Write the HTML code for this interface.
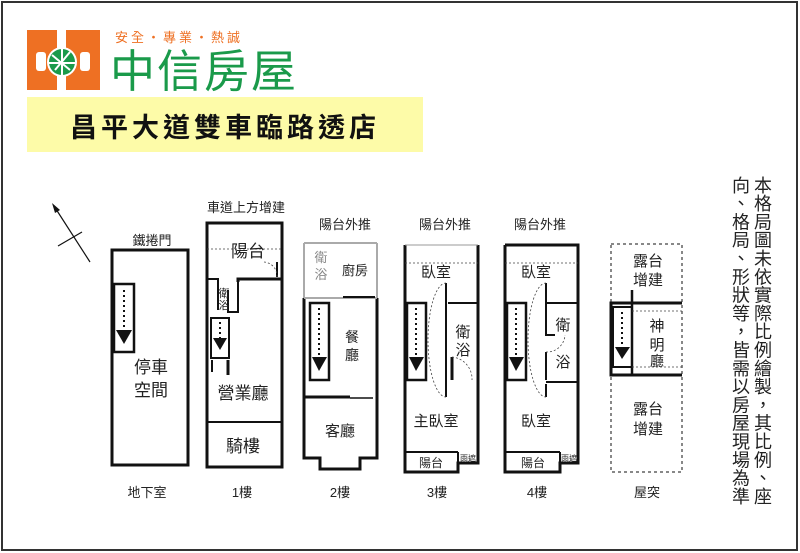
<!DOCTYPE html>
<html><head><meta charset="utf-8"><style>
body{margin:0;background:#fff;width:800px;height:553px;overflow:hidden;position:relative;font-family:"Liberation Sans","Noto Sans CJK TC",sans-serif}
.v{position:absolute;top:176px;writing-mode:vertical-rl;font-size:18px;line-height:21px;letter-spacing:0.3px;color:#222;font-family:"Liberation Sans","Noto Sans CJK TC",sans-serif}
</style></head><body>
<svg width="800" height="553" style="position:absolute;left:0;top:0" font-family="Liberation Sans, Noto Sans CJK TC, sans-serif">
<rect x="2" y="2" width="795" height="548" fill="none" stroke="#333" stroke-width="2"/>
<!-- logo -->
<rect x="27" y="30" width="73" height="60" fill="#ee7023"/>
<rect x="57" y="30" width="9" height="20" fill="#fff"/>
<rect x="57" y="76" width="9" height="14" fill="#fff"/>
<rect x="36" y="52" width="10" height="19" rx="3" fill="#fff"/>
<rect x="80" y="52" width="10" height="19" rx="3" fill="#fff"/>
<circle cx="62" cy="62" r="15" fill="#fff"/>
<circle cx="62" cy="62" r="13" fill="#1a9a4a"/>
<path d="M52 55 L70 70 M55 70 L70 52 M49 63 H75 M62 49 V75" stroke="#fff" stroke-width="2" fill="none"/>
<text x="115" y="42" font-size="13" fill="#ee7023" letter-spacing="3">安全・專業・熱誠</text>
<text x="110" y="87" font-size="45" fill="#1a9a4a" letter-spacing="2">中信房屋</text>
<rect x="27" y="97" width="396" height="55" fill="#fdfba8"/>
<text x="225" y="137" font-size="27" font-weight="bold" text-anchor="middle" fill="#111" letter-spacing="4">昌平大道雙車臨路透店</text>
<!-- north -->
<line x1="54" y1="206" x2="90" y2="262" stroke="#111" stroke-width="1.2"/>
<polygon points="52,203 60,210 55,213" fill="#111"/>
<line x1="58" y1="246" x2="82" y2="232" stroke="#111" stroke-width="1.2"/>
<g stroke="#111" fill="none" stroke-width="3">
<rect x="112" y="250" width="76" height="215"/>
<rect x="114" y="284" width="20" height="68" stroke-width="2.5"/>
<rect x="207" y="223" width="75" height="244"/>
<path d="M238 282 V279 H282" />
<path d="M207 279 H218 V310" stroke-width="2"/>
<path d="M228 290 V312 H238 V282" stroke-width="2"/>
<line x1="207" y1="422" x2="282" y2="422" stroke-width="2"/>
<rect x="211" y="318" width="18" height="40" stroke-width="2"/>
<line x1="212" y1="360" x2="212" y2="372" stroke-width="2"/>
<line x1="228" y1="360" x2="228" y2="375"/>
<line x1="277" y1="262" x2="277" y2="277" stroke-width="2"/>
<path d="M377 298 V458 H360 V469 H320 V458 H304 V298" />
<path d="M304 298 V243 M377 243 V298 M304 243 H377 M304 298 H377" stroke="#aaa" stroke-width="2"/>
<line x1="304" y1="397" x2="350" y2="397"/>
<line x1="350" y1="398" x2="373" y2="398" stroke-width="1.5"/>
<rect x="310" y="303" width="19" height="77" stroke-width="2.5"/>
<line x1="343" y1="297" x2="375" y2="297" stroke="#111" stroke-width="2"/>
<path d="M405 245 V472 H458 V463 H478 V245"/>
<line x1="405" y1="245" x2="478" y2="245" stroke-width="1" stroke="#999"/>
<line x1="405" y1="452" x2="458" y2="452" stroke-width="2"/>
<line x1="458" y1="452" x2="458" y2="472" stroke-width="2"/>
<rect x="407" y="303" width="19" height="77" stroke-width="2.5"/>
<line x1="446" y1="283" x2="446" y2="397" stroke-width="2"/>
<line x1="448" y1="303" x2="478" y2="303" stroke-width="2"/>
<line x1="452" y1="357" x2="452" y2="380" stroke-width="3"/>
<path d="M505 245 V472 H560 V463 H578 V245 H505"/>
<line x1="505" y1="452" x2="560" y2="452" stroke-width="2"/>
<line x1="560" y1="452" x2="560" y2="472" stroke-width="2"/>
<rect x="507" y="303" width="19" height="77" stroke-width="2.5"/>
<path d="M546 283 V335 H555 M546 352 V380 M546 384 V397" stroke-width="2"/>
<line x1="546" y1="303" x2="578" y2="303" stroke-width="2"/>
<line x1="546" y1="382" x2="578" y2="382" stroke-width="2"/>
<rect x="611" y="244" width="71" height="228" stroke-dasharray="3,3" stroke-width="1"/>
<path d="M682 303 H611 V375 H682" />
<rect x="613" y="307" width="19" height="60" stroke-width="2"/>
<line x1="632" y1="290" x2="632" y2="375" stroke-width="2.5"/>
</g>
<g fill="#111">
<polygon points="116,330 132,330 124,344"/>
<polygon points="213,338 227,338 220,350"/>
<polygon points="312,357 327,357 319,371"/>
<polygon points="409,357 424,357 416,371"/>
<polygon points="509,357 524,357 516,371"/>
<polygon points="615,347 630,347 622,359"/>
</g>
<g stroke="#111" stroke-dasharray="2,3" stroke-width="2">
<line x1="124" y1="290" x2="124" y2="330"/><line x1="220" y1="322" x2="220" y2="338"/>
<line x1="319" y1="308" x2="319" y2="357"/><line x1="416" y1="308" x2="416" y2="357"/>
<line x1="516" y1="308" x2="516" y2="357"/><line x1="622" y1="312" x2="622" y2="347"/>
</g>
<g stroke="#444" stroke-dasharray="2,2" stroke-width="0.8" fill="none">
<line x1="207" y1="249" x2="282" y2="249"/>
<line x1="405" y1="263" x2="478" y2="263"/>
<line x1="505" y1="263" x2="578" y2="263"/>
<line x1="632" y1="311" x2="682" y2="311"/><line x1="632" y1="367" x2="682" y2="367"/>
<path d="M446 283 A18 57 0 0 0 446 397"/><path d="M546 283 A18 57 0 0 0 546 397"/>
<path d="M452 357 A22 22 0 0 1 472 380"/><path d="M546 352 A18 18 0 0 0 565 335"/>
<path d="M264 262 A14 14 0 0 1 277 277"/>
</g>
<g font-size="13" fill="#222" text-anchor="middle">
<text x="152" y="245">鐵捲門</text>
<text x="246" y="212">車道上方增建</text>
<text x="345" y="229">陽台外推</text>
<text x="445" y="229">陽台外推</text>
<text x="540" y="229">陽台外推</text>
<text x="147" y="497">地下室</text>
<text x="242" y="497">1樓</text>
<text x="340" y="497">2樓</text>
<text x="437" y="497">3樓</text>
<text x="537" y="497">4樓</text>
<text x="647" y="497">屋突</text>
</g>
<g font-size="17" fill="#222" text-anchor="middle">
<text x="151" y="373">停車</text><text x="151" y="396">空間</text>
<text x="248" y="257">陽台</text>
<text x="243" y="399">營業廳</text>
<text x="243" y="452">騎樓</text>
<text x="340" y="436" font-size="15">客廳</text>
<text x="436" y="426" font-size="15">主臥室</text>
<text x="536" y="426" font-size="15">臥室</text>
<text x="436" y="277" font-size="15">臥室</text>
<text x="536" y="277" font-size="15">臥室</text>
<text x="648" y="266" font-size="15">露台</text><text x="648" y="285" font-size="15">增建</text>
<text x="648" y="414" font-size="15">露台</text><text x="648" y="434" font-size="15">增建</text>
<text x="657" y="331" font-size="15">神</text><text x="657" y="350" font-size="15">明</text><text x="657" y="366" font-size="14">廳</text>
<text x="463" y="337" font-size="15">衛</text><text x="463" y="355" font-size="15">浴</text>
<text x="563" y="330" font-size="15">衛</text><text x="563" y="367" font-size="15">浴</text>
<text x="352" y="342" font-size="14">餐</text><text x="352" y="360" font-size="14">廳</text>
<text x="355" y="275" font-size="13">廚房</text>
<text x="321" y="262" font-size="13" fill="#888">衛</text><text x="321" y="279" font-size="13" fill="#888">浴</text>
<text x="224" y="297" font-size="11">衛</text><text x="224" y="309" font-size="11">浴</text>
<text x="431" y="467" font-size="12">陽台</text><text x="533" y="467" font-size="12">陽台</text>
<text x="468" y="461" font-size="8">雨遮</text><text x="569" y="461" font-size="8">雨遮</text>
</g>
</svg>
<div class="v" style="left:751px">本格局圖未依實際比例繪製，其比例、座</div>
<div class="v" style="left:729px">向、格局、形狀等，皆需以房屋現場為準</div>
</body></html>
